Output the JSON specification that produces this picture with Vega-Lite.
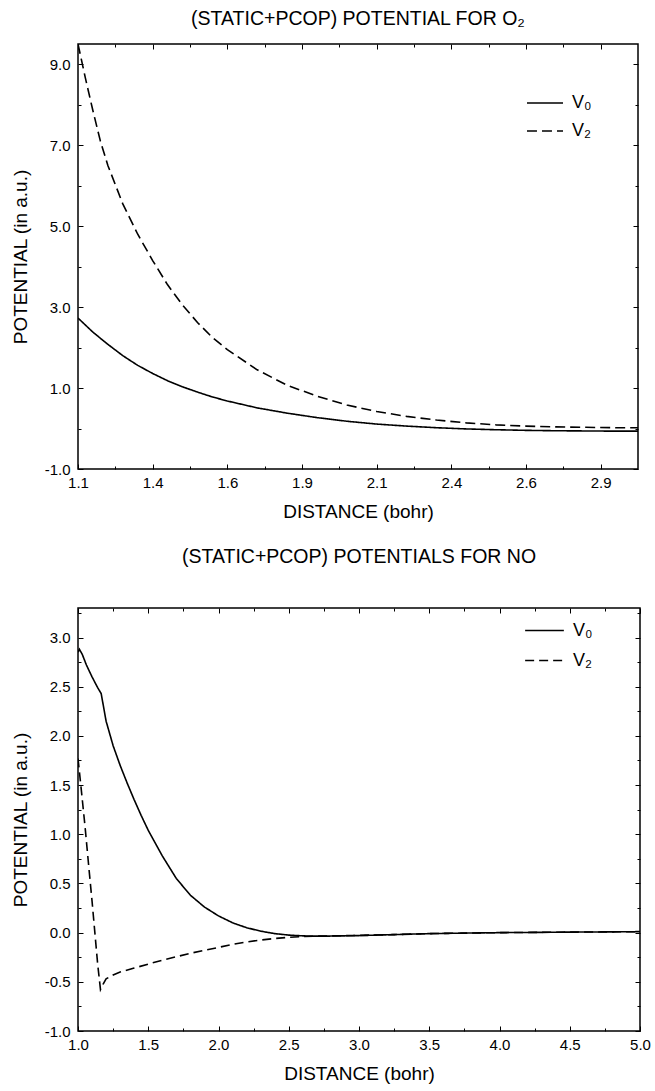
{
  "$schema": "https://vega.github.io/schema/vega-lite/v6.json",
  "background": "white",
  "padding": {"top": 8, "left": 10, "right": 8, "bottom": 8},
  "config": {
    "view": {"stroke": "black", "strokeWidth": 1.5},
    "font": "Liberation Sans",
    "axis": {"labelFont": "Liberation Sans", "labelFontSize": 15, "titleFont": "Liberation Sans", "titleFontSize": 19, "titleFontWeight": "normal", "labelColor": "black", "titleColor": "black", "tickColor": "black", "tickWidth": 1, "domain": false, "grid": false, "labelOverlap": false, "labelFlush": false, "labelBound": false},
    "title": {"font": "Liberation Sans", "fontSize": 19.5, "fontWeight": "normal", "color": "black", "anchor": "middle"},
    "legend": {"labelFont": "Liberation Sans", "labelFontSize": 18, "labelColor": "black"}
  },
  "datasets": {
    "o2": [
      {"x": 1.1, "v": 2.73, "s": "V₀"}, {"x": 1.15, "v": 2.38, "s": "V₀"}, {"x": 1.2, "v": 2.08, "s": "V₀"}, {"x": 1.25, "v": 1.8, "s": "V₀"}, {"x": 1.3, "v": 1.56, "s": "V₀"}, {"x": 1.35, "v": 1.36, "s": "V₀"}, {"x": 1.4, "v": 1.18, "s": "V₀"}, {"x": 1.45, "v": 1.03, "s": "V₀"}, {"x": 1.5, "v": 0.9, "s": "V₀"}, {"x": 1.55, "v": 0.78, "s": "V₀"}, {"x": 1.6, "v": 0.68, "s": "V₀"}, {"x": 1.7, "v": 0.51, "s": "V₀"}, {"x": 1.8, "v": 0.38, "s": "V₀"}, {"x": 1.9, "v": 0.27, "s": "V₀"}, {"x": 2.0, "v": 0.18, "s": "V₀"}, {"x": 2.1, "v": 0.11, "s": "V₀"}, {"x": 2.2, "v": 0.06, "s": "V₀"}, {"x": 2.3, "v": 0.02, "s": "V₀"}, {"x": 2.4, "v": -0.01, "s": "V₀"}, {"x": 2.5, "v": -0.03, "s": "V₀"}, {"x": 2.6, "v": -0.045, "s": "V₀"}, {"x": 2.7, "v": -0.055, "s": "V₀"}, {"x": 2.8, "v": -0.06, "s": "V₀"}, {"x": 2.9, "v": -0.065, "s": "V₀"}, {"x": 2.975, "v": -0.065, "s": "V₀"},
      {"x": 1.1, "v": 9.5, "s": "V₂"}, {"x": 1.125, "v": 8.65, "s": "V₂"}, {"x": 1.15, "v": 7.85, "s": "V₂"}, {"x": 1.175, "v": 7.1, "s": "V₂"}, {"x": 1.2, "v": 6.5, "s": "V₂"}, {"x": 1.25, "v": 5.55, "s": "V₂"}, {"x": 1.3, "v": 4.8, "s": "V₂"}, {"x": 1.35, "v": 4.15, "s": "V₂"}, {"x": 1.4, "v": 3.55, "s": "V₂"}, {"x": 1.45, "v": 3.05, "s": "V₂"}, {"x": 1.5, "v": 2.62, "s": "V₂"}, {"x": 1.55, "v": 2.25, "s": "V₂"}, {"x": 1.6, "v": 1.95, "s": "V₂"}, {"x": 1.7, "v": 1.45, "s": "V₂"}, {"x": 1.8, "v": 1.07, "s": "V₂"}, {"x": 1.9, "v": 0.8, "s": "V₂"}, {"x": 2.0, "v": 0.58, "s": "V₂"}, {"x": 2.1, "v": 0.42, "s": "V₂"}, {"x": 2.2, "v": 0.3, "s": "V₂"}, {"x": 2.3, "v": 0.21, "s": "V₂"}, {"x": 2.4, "v": 0.14, "s": "V₂"}, {"x": 2.5, "v": 0.09, "s": "V₂"}, {"x": 2.6, "v": 0.06, "s": "V₂"}, {"x": 2.7, "v": 0.04, "s": "V₂"}, {"x": 2.8, "v": 0.03, "s": "V₂"}, {"x": 2.9, "v": 0.02, "s": "V₂"}, {"x": 2.975, "v": 0.02, "s": "V₂"}
    ],
    "no": [
      {"x": 1.0, "v": 2.85, "s": "V₀"}, {"x": 1.01, "v": 2.88, "s": "V₀"}, {"x": 1.03, "v": 2.83, "s": "V₀"}, {"x": 1.06, "v": 2.72, "s": "V₀"}, {"x": 1.1, "v": 2.6, "s": "V₀"}, {"x": 1.14, "v": 2.49, "s": "V₀"}, {"x": 1.165, "v": 2.43, "s": "V₀"}, {"x": 1.2, "v": 2.15, "s": "V₀"}, {"x": 1.25, "v": 1.9, "s": "V₀"}, {"x": 1.3, "v": 1.7, "s": "V₀"}, {"x": 1.35, "v": 1.52, "s": "V₀"}, {"x": 1.4, "v": 1.35, "s": "V₀"}, {"x": 1.45, "v": 1.19, "s": "V₀"}, {"x": 1.5, "v": 1.04, "s": "V₀"}, {"x": 1.6, "v": 0.78, "s": "V₀"}, {"x": 1.7, "v": 0.55, "s": "V₀"}, {"x": 1.8, "v": 0.38, "s": "V₀"}, {"x": 1.9, "v": 0.26, "s": "V₀"}, {"x": 2.0, "v": 0.17, "s": "V₀"}, {"x": 2.1, "v": 0.1, "s": "V₀"}, {"x": 2.2, "v": 0.05, "s": "V₀"}, {"x": 2.3, "v": 0.015, "s": "V₀"}, {"x": 2.4, "v": -0.01, "s": "V₀"}, {"x": 2.5, "v": -0.025, "s": "V₀"}, {"x": 2.6, "v": -0.033, "s": "V₀"}, {"x": 2.7, "v": -0.036, "s": "V₀"}, {"x": 2.8, "v": -0.035, "s": "V₀"}, {"x": 3.0, "v": -0.03, "s": "V₀"}, {"x": 3.25, "v": -0.02, "s": "V₀"}, {"x": 3.5, "v": -0.01, "s": "V₀"}, {"x": 4.0, "v": 0.0, "s": "V₀"}, {"x": 4.5, "v": 0.005, "s": "V₀"}, {"x": 5.0, "v": 0.01, "s": "V₀"},
      {"x": 1.0, "v": 1.77, "s": "V₂"}, {"x": 1.02, "v": 1.5, "s": "V₂"}, {"x": 1.05, "v": 1.08, "s": "V₂"}, {"x": 1.08, "v": 0.62, "s": "V₂"}, {"x": 1.1, "v": 0.32, "s": "V₂"}, {"x": 1.12, "v": 0.0, "s": "V₂"}, {"x": 1.14, "v": -0.32, "s": "V₂"}, {"x": 1.16, "v": -0.58, "s": "V₂"}, {"x": 1.18, "v": -0.52, "s": "V₂"}, {"x": 1.2, "v": -0.47, "s": "V₂"}, {"x": 1.25, "v": -0.43, "s": "V₂"}, {"x": 1.3, "v": -0.4, "s": "V₂"}, {"x": 1.4, "v": -0.36, "s": "V₂"}, {"x": 1.5, "v": -0.32, "s": "V₂"}, {"x": 1.6, "v": -0.28, "s": "V₂"}, {"x": 1.7, "v": -0.245, "s": "V₂"}, {"x": 1.8, "v": -0.21, "s": "V₂"}, {"x": 1.9, "v": -0.18, "s": "V₂"}, {"x": 2.0, "v": -0.15, "s": "V₂"}, {"x": 2.1, "v": -0.12, "s": "V₂"}, {"x": 2.2, "v": -0.095, "s": "V₂"}, {"x": 2.3, "v": -0.075, "s": "V₂"}, {"x": 2.4, "v": -0.06, "s": "V₂"}, {"x": 2.5, "v": -0.048, "s": "V₂"}, {"x": 2.6, "v": -0.04, "s": "V₂"}, {"x": 2.7, "v": -0.036, "s": "V₂"}, {"x": 2.8, "v": -0.033, "s": "V₂"}, {"x": 3.0, "v": -0.028, "s": "V₂"}, {"x": 3.25, "v": -0.02, "s": "V₂"}, {"x": 3.5, "v": -0.01, "s": "V₂"}, {"x": 4.0, "v": 0.0, "s": "V₂"}, {"x": 4.5, "v": 0.005, "s": "V₂"}, {"x": 5.0, "v": 0.01, "s": "V₂"}
    ]
  },
  "vconcat": [
    {
      "width": 560, "height": 425,
      "data": {"name": "o2"},
      "title": {"text": "(STATIC+PCOP) POTENTIAL FOR O₂", "offset": 14},
      "layer": [
        {
          "mark": {"type": "line", "color": "black", "strokeWidth": 1.6, "clip": true},
          "encoding": {
            "x": {"field": "x", "type": "quantitative", "scale": {"domain": [1.1, 2.975], "nice": false, "zero": false},
              "axis": {"orient": "bottom", "title": "DISTANCE (bohr)", "values": [1.1, 1.225, 1.35, 1.475, 1.6, 1.725, 1.85, 1.975, 2.1, 2.225, 2.35, 2.475, 2.6, 2.725, 2.85],
                "labelExpr": "abs((datum.value-1.1)/0.25 - round((datum.value-1.1)/0.25)) < 0.01 ? format(datum.value, '.1f') : ''",
                "tickSize": {"condition": {"test": "abs((datum.value-1.1)/0.25 - round((datum.value-1.1)/0.25)) < 0.01", "value": -5}, "value": -3},
                "labelPadding": 11, "titlePadding": 10}},
            "y": {"field": "v", "type": "quantitative", "scale": {"domain": [-1, 9.5], "nice": false, "zero": false},
              "axis": {"orient": "left", "title": "POTENTIAL (in a.u.)", "values": [-1, 0, 1, 2, 3, 4, 5, 6, 7, 8, 9],
                "labelExpr": "abs(datum.value % 2) == 1 ? replace(format(datum.value, '.1f'), '−', '-') : ''",
                "tickSize": {"condition": {"test": "abs(datum.value % 2) == 1", "value": -5}, "value": -3},
                "labelPadding": 13, "titlePadding": 14}},
            "strokeDash": {"field": "s", "type": "nominal", "scale": {"domain": ["V₀", "V₂"], "range": [[1, 0], [10, 5]]},
              "legend": {"orient": "none", "legendX": 448, "legendY": 40, "title": null, "symbolType": "stroke", "symbolSize": 1300, "symbolStrokeWidth": 1.4, "symbolStrokeColor": "black", "rowPadding": -1, "labelOffset": 8}}
          }
        },
        {
          "mark": {"type": "line", "opacity": 0},
          "encoding": {
            "x": {"field": "x", "type": "quantitative", "axis": {"orient": "top", "title": null, "labels": false, "values": [1.1, 1.225, 1.35, 1.475, 1.6, 1.725, 1.85, 1.975, 2.1, 2.225, 2.35, 2.475, 2.6, 2.725, 2.85],
              "tickSize": {"condition": {"test": "abs((datum.value-1.1)/0.25 - round((datum.value-1.1)/0.25)) < 0.01", "value": -5}, "value": -3}}},
            "y": {"field": "v", "type": "quantitative", "axis": {"orient": "right", "title": null, "labels": false, "values": [-1, 0, 1, 2, 3, 4, 5, 6, 7, 8, 9],
              "tickSize": {"condition": {"test": "abs(datum.value % 2) == 1", "value": -5}, "value": -3}}}
          }
        }
      ],
      "resolve": {"axis": {"x": "independent", "y": "independent"}}
    },
    {
      "width": 562, "height": 423,
      "data": {"name": "no"},
      "title": {"text": "(STATIC+PCOP) POTENTIALS FOR NO", "offset": 38},
      "layer": [
        {
          "mark": {"type": "line", "color": "black", "strokeWidth": 1.6, "clip": true},
          "encoding": {
            "x": {"field": "x", "type": "quantitative", "scale": {"domain": [1, 5], "nice": false, "zero": false},
              "axis": {"orient": "bottom", "title": "DISTANCE (bohr)", "values": [1, 1.25, 1.5, 1.75, 2, 2.25, 2.5, 2.75, 3, 3.25, 3.5, 3.75, 4, 4.25, 4.5, 4.75, 5],
                "labelExpr": "abs(datum.value*2 - round(datum.value*2)) < 0.01 ? format(datum.value, '.1f') : ''",
                "tickSize": {"condition": {"test": "abs(datum.value*2 - round(datum.value*2)) < 0.01", "value": -5}, "value": -3},
                "labelPadding": 11, "titlePadding": 10}},
            "y": {"field": "v", "type": "quantitative", "scale": {"domain": [-1, 3.3], "nice": false, "zero": false},
              "axis": {"orient": "left", "title": "POTENTIAL (in a.u.)", "values": [-1, -0.75, -0.5, -0.25, 0, 0.25, 0.5, 0.75, 1, 1.25, 1.5, 1.75, 2, 2.25, 2.5, 2.75, 3, 3.25],
                "labelExpr": "abs(datum.value*2 - round(datum.value*2)) < 0.01 ? replace(format(datum.value, '.1f'), '−', '-') : ''",
                "tickSize": {"condition": {"test": "abs(datum.value*2 - round(datum.value*2)) < 0.01", "value": -5}, "value": -3},
                "labelPadding": 13, "titlePadding": 14}},
            "strokeDash": {"field": "s", "type": "nominal", "scale": {"domain": ["V₀", "V₂"], "range": [[1, 0], [9, 5]]},
              "legend": {"orient": "none", "legendX": 446, "legendY": 2, "title": null, "symbolType": "stroke", "symbolSize": 1500, "symbolStrokeWidth": 1.4, "symbolStrokeColor": "black", "rowPadding": -1, "labelOffset": 8}}
          }
        },
        {
          "mark": {"type": "line", "opacity": 0},
          "encoding": {
            "x": {"field": "x", "type": "quantitative", "axis": {"orient": "top", "title": null, "labels": false, "values": [1, 1.25, 1.5, 1.75, 2, 2.25, 2.5, 2.75, 3, 3.25, 3.5, 3.75, 4, 4.25, 4.5, 4.75, 5],
              "tickSize": {"condition": {"test": "abs(datum.value*2 - round(datum.value*2)) < 0.01", "value": -5}, "value": -3}}},
            "y": {"field": "v", "type": "quantitative", "axis": {"orient": "right", "title": null, "labels": false, "values": [-1, -0.75, -0.5, -0.25, 0, 0.25, 0.5, 0.75, 1, 1.25, 1.5, 1.75, 2, 2.25, 2.5, 2.75, 3, 3.25],
              "tickSize": {"condition": {"test": "abs(datum.value*2 - round(datum.value*2)) < 0.01", "value": -5}, "value": -3}}}
          }
        }
      ],
      "resolve": {"axis": {"x": "independent", "y": "independent"}}
    }
  ],
  "resolve": {"scale": {"strokeDash": "independent"}, "legend": {"strokeDash": "independent"}},
  "spacing": 24
}
